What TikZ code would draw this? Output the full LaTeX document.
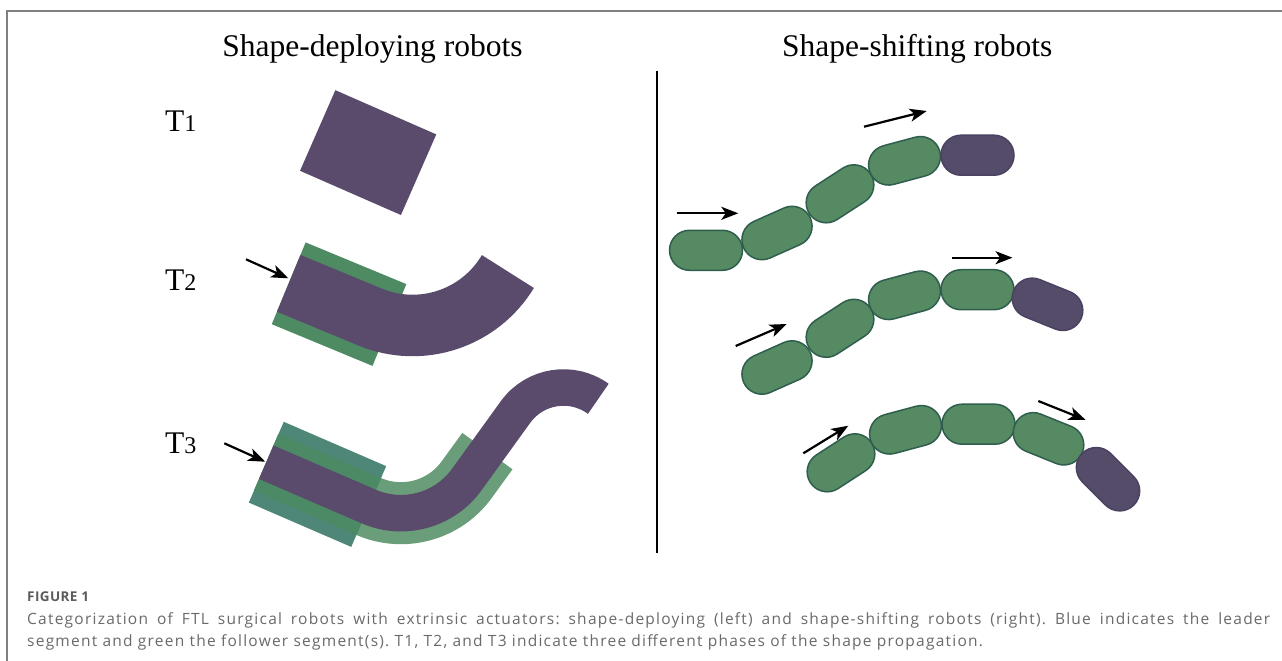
\documentclass[tikz,border=0pt]{standalone}
\usepackage{fontspec}
\setmainfont{Liberation Serif}
\newfontfamily\capfont[LetterSpace=8]{Open Sans}
\newfontfamily\figfont[LetterSpace=3]{Open Sans}
\usetikzlibrary{arrows.meta}
\definecolor{tube}{HTML}{5A4A6B}
\definecolor{sleeve}{HTML}{4E8A62}
\definecolor{blockteal}{HTML}{4E8777}
\definecolor{blockgreen}{HTML}{4C8A66}
\definecolor{lightsleeve}{HTML}{6A9D79}
\definecolor{capg}{HTML}{558A62}
\definecolor{capgline}{HTML}{2F5E4E}
\definecolor{capp}{HTML}{554C6A}
\definecolor{cappline}{HTML}{4B4160}
\definecolor{framecol}{HTML}{808080}
\definecolor{captext}{HTML}{6A6A6A}
\definecolor{figlabel}{HTML}{5C5C5C}
\frenchspacing
\begin{document}
\begin{tikzpicture}[x=1pt,y=-1pt,
  capsg/.style={draw=capgline, fill=capg, line width=1.5pt, rectangle, rounded corners=20pt,
    minimum width=73pt, minimum height=40pt, inner sep=0pt},
  capsp/.style={capsg, draw=cappline, fill=capp},
  arr/.style={line width=2.2pt, -{Stealth[length=17pt,width=13pt,inset=4.5pt]}},
  titletext/.style={font=\fontsize{31.5}{36}\selectfont, anchor=base, inner sep=0pt},
  tlabel/.style={font=\fontsize{31.5}{36}\selectfont, anchor=base west, inner sep=0pt},
  tubeT2/.style={draw=tube, line width=61.5pt},
  tubeT3/.style={draw=tube, line width=36.5pt},
  captionline/.style={anchor=base west, inner sep=0pt, text=captext, font=\capfont\fontsize{15.5}{18}\selectfont}]
\useasboundingbox (0,0) rectangle (1282,661);
\fill[white] (0,0) rectangle (1282,661);
% frame
\draw[framecol, line width=1.5pt] (7,661) -- (7,11) -- (1282,11);
% titles
\node[titletext] (tl) at (372.5,57) {Shape-deploying robots};
\node[titletext] (tr) at (917.3,57) {Shape-shifting robots};
% divider
\draw[line width=2pt] (657,71) -- (657,553);
% phase labels
\node[tlabel] (l1) at (165,131.7) {T{\fontsize{24}{24}\selectfont 1}};
\node[tlabel] (l2) at (165,290) {T{\fontsize{24}{24}\selectfont 2}};
\node[tlabel] (l3) at (165,453.3) {T{\fontsize{24}{24}\selectfont 3}};
% T1 block
\draw[tube, line width=88pt] (317.7,130.5) -- (418.6,174.7);
% T2
\draw[sleeve, line width=88.5pt] (288.7,283.3) -- (389.4,325);
\draw[tubeT2] (288.7,283.3) -- (370,317) arc[start angle=112.5, end angle=31, radius=111.2];
% T3
\draw[lightsleeve, line width=62pt] (266.3,462.2) -- (368.7,506.5)
   arc[start angle=113.4, end angle=36, radius=81.2] -- (487.4,451.1);
\draw[blockteal, line width=88pt] (266.3,462.2) -- (368.7,506.5);
\draw[blockgreen, line width=62pt] (266.3,462.2) -- (368.7,506.5);
\draw[tubeT3] (266.3,462.2) -- (368.7,506.5)
   arc[start angle=113.4, end angle=36, radius=81.2] -- (515.6,411.9)
   arc[start angle=216, end angle=306, radius=59.2];
% left arrows
\coordinate (s2) at (246,259.3); \coordinate (e2) at (288.3,278.3);
\coordinate (s3) at (224.3,443.3); \coordinate (e3) at (265.2,461.7);
\draw[arr] (s2) -- (e2);
\draw[arr] (s3) -- (e3);
% chain 1
\node[capsg] (a1) at (706,250.3) {};
\node[capsg, rotate=24] (a2) at (777,233) {};
\node[capsg, rotate=33] (a3) at (840,193.8) {};
\node[capsg, rotate=15] (a4) at (904.5,160.8) {};
\node[capsp] (a5) at (977.5,155.2) {};
% chain 2
\node[capsg, rotate=24] (b1) at (777,367.5) {};
\node[capsg, rotate=33] (b2) at (840,328.3) {};
\node[capsg, rotate=15] (b3) at (904.5,295.3) {};
\node[capsg] (b4) at (977.5,289.7) {};
\node[capsp, rotate=-22] (b5) at (1047.5,304.3) {};
% chain 3
\node[capsg, rotate=33] (c1) at (841,462.8) {};
\node[capsg, rotate=15] (c2) at (905.5,429.8) {};
\node[capsg] (c3) at (978.5,424.2) {};
\node[capsg, rotate=-22] (c4) at (1048.5,438.8) {};
\node[capsp, rotate=-45] (c5) at (1108,479.2) {};
% right arrows
\coordinate (ra1s) at (864,126.7); \coordinate (ra1e) at (926.7,111);
\coordinate (ra2s) at (676.7,213.3); \coordinate (ra2e) at (738.3,213.3);
\coordinate (rb1s) at (735.7,346); \coordinate (rb1e) at (786.7,324);
\coordinate (rb2s) at (951.7,257.7); \coordinate (rb2e) at (1012.5,257.7);
\coordinate (rc1s) at (803.3,453.3); \coordinate (rc1e) at (848.3,425.7);
\coordinate (rc2s) at (1038.3,401); \coordinate (rc2e) at (1085.7,420);
\draw[arr] (ra1s) -- (ra1e);
\draw[arr] (ra2s) -- (ra2e);
\draw[arr] (rb1s) -- (rb1e);
\draw[arr] (rb2s) -- (rb2e);
\draw[arr] (rc1s) -- (rc1e);
\draw[arr] (rc2s) -- (rc2e);
% caption
\node[anchor=base west, inner sep=0pt, text=figlabel, font=\figfont\bfseries\fontsize{13.5}{15}\selectfont] (fig) at (27,601) {FIGURE 1};
\node[captionline] (cap1) at (27,624)
  {\makebox[1243pt][s]{Categorization of FTL surgical robots with extrinsic actuators: shape-deploying (left) and shape-shifting robots (right). Blue indicates the leader}};
\node[captionline] (cap2) at (27,646)
  {segment and green the follower segment(s). T1, T2, and T3 indicate three different phases of the shape propagation.};
\end{tikzpicture}
\end{document}
